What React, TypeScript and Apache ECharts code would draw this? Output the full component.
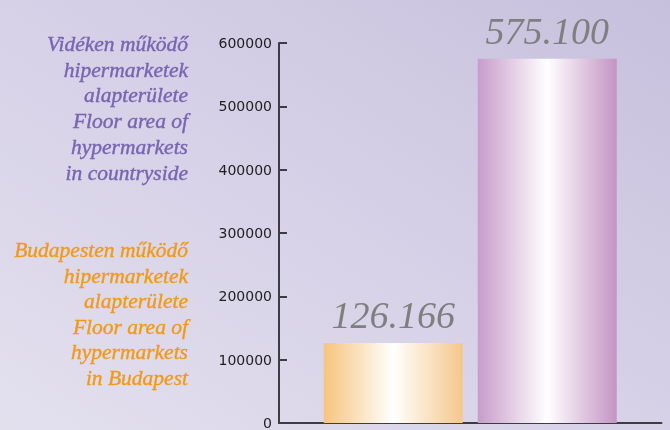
import React, { useEffect, useRef } from "react";
import * as echarts from "echarts";

const categories = [""];
const seriesNames = ["Budapest", "Vidék"];
const values = [126166, 575100];
const yTicks = { min: 0, max: 600000, interval: 100000 };
const countrysideLines = [
  "Vidéken működő",
  "hipermarketek",
  "alapterülete",
  "Floor area of",
  "hypermarkets",
  "in countryside",
];
const budapestLines = [
  "Budapesten működő",
  "hipermarketek",
  "alapterülete",
  "Floor area of",
  "hypermarkets",
  "in Budapest",
];

const fmt = (v: number) => String(v).replace(/\B(?=(\d{3})+(?!\d))/g, ".");

const barGrad = (edgeL: string, edgeR: string) =>
  new echarts.graphic.LinearGradient(0, 0, 1, 0, [
    { offset: 0, color: edgeL },
    { offset: 0.5, color: "#ffffff" },
    { offset: 1, color: edgeR },
  ]);

export default function App() {
  const ref = useRef<HTMLDivElement>(null);
  useEffect(() => {
    document.body.style.margin = "0";
    const chart = echarts.init(ref.current!, null, { renderer: "svg" });
    const textEls: any[] = [];
    const addBlock = (lines: string[], y0: number, step: number, color: string) =>
      lines.forEach((t, i) => {
        textEls.push({
          type: "text",
          x: 188,
          y: y0 + i * step,
          style: {
            text: t,
            align: "right",
            verticalAlign: "middle",
            font: "italic 21.5px 'Liberation Serif'",
            fill: color,
            stroke: color,
            lineWidth: 0.4,
          },
        });
      });
    addBlock(countrysideLines, 44, 25.7, "#7765b2");
    addBlock(budapestLines, 250, 25.5, "#f29a17");
    chart.setOption({
      animation: false,
      graphic: [
        {
          type: "rect",
          z: -10,
          silent: true,
          shape: { x: 0, y: 0, width: 670, height: 430 },
          style: {
            fill: new echarts.graphic.LinearGradient(0, 1, 1, 0, [
              { offset: 0, color: "#e3e0ee" },
              { offset: 0.5, color: "#d6d1e7" },
              { offset: 1, color: "#c7c0dd" },
            ]),
          },
        },
        ...textEls,
      ],
      grid: { left: 279, right: 8.5, top: 43, bottom: 4.5 },
      xAxis: {
        type: "category",
        data: categories,
        axisLine: { lineStyle: { color: "#3c3c44", width: 2 } },
        axisTick: { inside: true, length: 10, lineStyle: { color: "#3c3c44", width: 2 } },
        axisLabel: { show: false },
      },
      yAxis: {
        type: "value",
        min: yTicks.min,
        max: yTicks.max,
        interval: yTicks.interval,
        axisLine: { show: true, lineStyle: { color: "#3c3c44", width: 2 } },
        axisTick: { show: true, inside: true, length: 8, lineStyle: { color: "#3c3c44", width: 2 } },
        axisLabel: {
          color: "#1e1e1e",
          fontFamily: "DejaVu Sans",
          fontSize: 14,
          margin: 7,
          formatter: (v: number) => String(v),
        },
        splitLine: { show: false },
      },
      series: seriesNames.map((name, i) => ({
        name,
        type: "bar",
        data: [values[i]],
        barWidth: 139,
        barGap: "10.8%",
        itemStyle: {
          color:
            i === 0
              ? barGrad("#f7c47c", "#f5c78a")
              : barGrad("#c89cca", "#c494c4"),
        },
        label: {
          show: true,
          position: "top",
          distance: 9,
          formatter: (p: any) => fmt(p.value),
          fontFamily: "Liberation Serif",
          fontStyle: "italic",
          fontSize: 38,
          color: "#7f7f7f",
        },
      })),
    });
    return () => chart.dispose();
  }, []);
  return (
    <div
      ref={ref}
      style={{ position: "fixed", left: 0, top: 0, width: 670, height: 430 }}
    />
  );
}
